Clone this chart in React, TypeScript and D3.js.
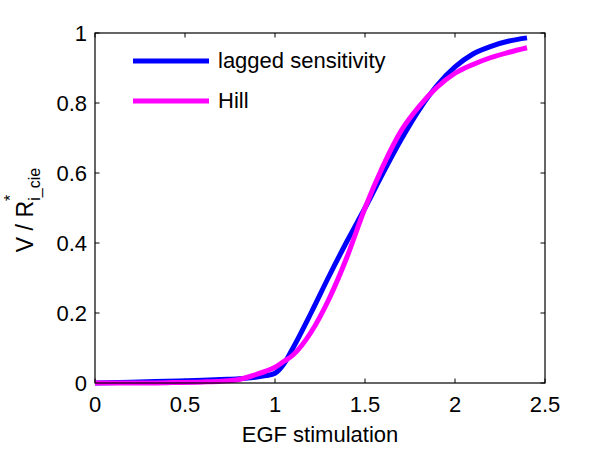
import * as d3 from "d3";

const xValues = [0, 0.2, 0.4, 0.6, 0.7, 0.8, 0.9, 0.95, 1.0, 1.05, 1.1, 1.2, 1.3, 1.4, 1.5, 1.6, 1.7, 1.8, 1.9, 2.0, 2.1, 2.2, 2.3, 2.4];
const laggedValues = [0, 0.002, 0.005, 0.008, 0.010, 0.012, 0.017, 0.021, 0.028, 0.055, 0.10, 0.20, 0.305, 0.405, 0.50, 0.60, 0.695, 0.78, 0.85, 0.903, 0.94, 0.962, 0.977, 0.986];
const hillValues = [0, 0.0, 0.001, 0.003, 0.005, 0.010, 0.025, 0.034, 0.045, 0.062, 0.08, 0.145, 0.24, 0.36, 0.50, 0.62, 0.72, 0.79, 0.845, 0.885, 0.91, 0.93, 0.945, 0.958];
const xTicks = [0, 0.5, 1, 1.5, 2, 2.5];
const yTicks = [0, 0.2, 0.4, 0.6, 0.8, 1];
const seriesNames = ["lagged sensitivity", "Hill"];
const seriesColors = ["#0000ff", "#ff00ff"];

const App = () => {
    const width = 600;
    const height = 449;
    const marginLeft = 95;
    const marginRight = 55;
    const marginTop = 33;
    const marginBottom = 66;
    const font = "'Liberation Sans', Arial, Helvetica, sans-serif";
    const tickLen = 4.5;

    const x = d3.scaleLinear().domain([0, 2.5]).range([marginLeft, width - marginRight]);
    const y = d3.scaleLinear().domain([0, 1]).range([height - marginBottom, marginTop]);

    const line = d3.line<number>()
        .x((_, i) => x(xValues[i]))
        .y(d => y(d))
        .curve(d3.curveMonotoneX);

    const series = [laggedValues, hillValues];
    const x0 = x.range()[0], x1 = x.range()[1];
    const y0 = y.range()[0], y1 = y.range()[1];

    return (
        <svg width={width} height={height} style={{ position: "absolute", left: 0, top: 0, background: "#fff" }}>
            <rect x={0} y={0} width={width} height={height} fill="#fff" />
            {/* ticks on all four sides, pointing inward */}
            <g stroke="#000" strokeWidth={1}>
                {xTicks.map((t, i) => (
                    <g key={i}>
                        <line x1={x(t)} x2={x(t)} y1={y0} y2={y0 - tickLen} />
                        <line x1={x(t)} x2={x(t)} y1={y1} y2={y1 + tickLen} />
                    </g>
                ))}
                {yTicks.map((t, i) => (
                    <g key={i}>
                        <line x1={x0} x2={x0 + tickLen} y1={y(t)} y2={y(t)} />
                        <line x1={x1} x2={x1 - tickLen} y1={y(t)} y2={y(t)} />
                    </g>
                ))}
            </g>
            {series.map((s, i) => (
                <path key={i} d={line(s) ?? ""} fill="none" stroke={seriesColors[i]} strokeWidth={5} strokeLinejoin="round" />
            ))}
            <rect x={x0} y={y1} width={x1 - x0} height={y0 - y1} fill="none" stroke="#000" strokeWidth={1.2} />
            <g fontFamily={font} fontSize={22} fill="#000">
                {xTicks.map((t, i) => (
                    <text key={i} x={x(t)} y={y0 + 29} textAnchor="middle">{d3.format("~g")(t)}</text>
                ))}
                {yTicks.map((t, i) => (
                    <text key={i} x={x0 - 8} y={y(t) + 8} textAnchor="end">{d3.format("~g")(t)}</text>
                ))}
                <text x={(x0 + x1) / 2} y={442} textAnchor="middle">EGF stimulation</text>
                <text transform={`translate(33,${(y0 + y1) / 2 + 2}) rotate(-90)`} textAnchor="middle" fontSize={23}>
                    V / R<tspan fontSize={16} dy={-17}>*</tspan><tspan fontSize={16} dx={-6} dy={24}>i_cie</tspan>
                </text>
                {seriesNames.map((n, i) => (
                    <g key={i}>
                        <line x1={133} x2={209} y1={61 + i * 40} y2={61 + i * 40} stroke={seriesColors[i]} strokeWidth={5} />
                        <text x={218} y={68 + i * 40}>{n}</text>
                    </g>
                ))}
            </g>
        </svg>
    );
};

export default App;
